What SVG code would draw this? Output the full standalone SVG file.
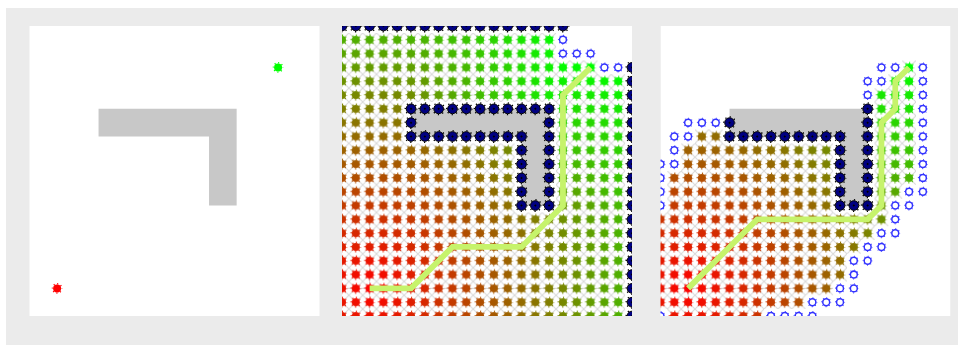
<svg xmlns="http://www.w3.org/2000/svg" width="964" height="345" viewBox="0 0 964 345">
<defs>
<g id="e"><circle r=".29" fill="currentColor"/><circle r=".34" fill="none" stroke="currentColor" stroke-width=".1" stroke-dasharray=".08 .187" stroke-dashoffset=".04"/></g>
<g id="r"><circle r=".25" fill="#fff" stroke="#3333ff" stroke-width=".11"/><circle r=".32" fill="none" stroke="#3333ff" stroke-width=".09" stroke-dasharray=".06 .1913" stroke-dashoffset=".03"/></g>
<g id="w"><circle r=".42" fill="none" stroke="#000" stroke-width=".1" stroke-dasharray=".09 .2399" stroke-dashoffset=".045"/><circle r=".35" fill="#000080" stroke="#000" stroke-width=".07"/><path d="M-.09 0L0-.09L.09 0L0 .09Z" fill="#000"/></g>
<pattern id="pd" patternUnits="userSpaceOnUse" x="-.5" y="-.5" width="1" height="1"><use href="#e" x=".5" y=".5" color="#fff"/></pattern>
<pattern id="pl" patternUnits="userSpaceOnUse" x="0" y="0" width="1" height="1"><path d="M0 0L1 1M1 0L0 1" stroke="#d9d9d9" stroke-width=".08"/></pattern>
<radialGradient id="gD" gradientUnits="userSpaceOnUse" cx="2" cy="19" r="26.3"><stop offset="0" stop-color="#f00"/><stop offset="1" stop-color="#0f0"/></radialGradient>
<radialGradient id="gL" gradientUnits="userSpaceOnUse" cx="4" cy="6" r="12.96"><stop offset="0" stop-color="#7e8100"/><stop offset="1" stop-color="#0f0"/></radialGradient>
<radialGradient id="gC" gradientUnits="userSpaceOnUse" cx="16" cy="13" r="10.4"><stop offset="0" stop-color="#659a00"/><stop offset="1" stop-color="#0f0"/></radialGradient>
<clipPath id="cp"><rect width="21" height="21"/></clipPath>
<path id="ex2" fill-rule="evenodd" d="M-.5 .5H15.5V2.5H18.5V3.5H20.5V21.5H-.5ZM4.5 5.5H15.5V13.5H12.5V8.5H4.5Z"/>
<path id="ex3" d="M17.5 2.5h1v1h-1zM16.5 3.5h2v1h-2zM15.5 4.5h3v7h-3zM15.5 11.5h2v1h-2zM15.5 12.5h1v1h-1zM2.5 7.5h2v1h-2zM1.5 8.5h11v2h-11zM.5 10.5h12v3h-12zM-.5 13.5h17v1h-17zM-.5 14.5h16v1h-16zM-.5 15.5h15v1h-15zM-.5 16.5h14v2h-14zM-.5 18.5h13v1h-13zM-.5 19.5h11v1h-11zM.5 20.5h7v1h-7z"/>
<mask id="m2"><use href="#ex2" fill="url(#pd)"/></mask>
<mask id="m3"><use href="#ex3" fill="url(#pd)"/></mask>
</defs>
<style>.pth{fill:none;stroke:#c6f36b;stroke-width:.42}.gl{stroke:#d9d9d9;stroke-width:.08;fill:none}.obs{fill:#c8c8c8}</style>
<rect width="964" height="345" fill="#fff"/>
<rect x="6" y="8" width="952" height="337" fill="#ebebeb"/>

<g id="panel1" transform="translate(29.5 26) scale(13.81)">
<rect width="21" height="21" fill="#fff"/>
<path class="obs" d="M5 6H15V13H13V8H5Z"/>
<use id="start" href="#e" x="2" y="19" color="#f00"/>
<use id="goal" href="#e" x="18" y="3" color="#0f0"/>
</g>

<g id="panel2" transform="translate(342 26) scale(13.81)">
<g clip-path="url(#cp)">
<rect width="21" height="21" fill="#fff"/>
<path class="obs" d="M5 6H15V13H13V8H5Z"/>
<use href="#ex2" fill="url(#pl)"/>
<path class="gl" d="M-.5 19H20.5M2 .5V21.5M5 5H15.5M5 5V.5"/>
<g mask="url(#m2)"><rect x="-1" y="-1" width="23" height="23" fill="url(#gD)"/><rect x="4.5" y="-1" width="11" height="6.5" fill="url(#gL)"/><rect x="15.5" y="-1" width="7" height="13.5" fill="url(#gC)"/></g>
<g id="walls2">
<use href="#w" x="0" y="0"/><use href="#w" x="1" y="0"/><use href="#w" x="2" y="0"/><use href="#w" x="3" y="0"/><use href="#w" x="4" y="0"/><use href="#w" x="5" y="0"/><use href="#w" x="6" y="0"/><use href="#w" x="7" y="0"/><use href="#w" x="8" y="0"/><use href="#w" x="9" y="0"/><use href="#w" x="10" y="0"/><use href="#w" x="11" y="0"/><use href="#w" x="12" y="0"/><use href="#w" x="13" y="0"/><use href="#w" x="14" y="0"/><use href="#w" x="15" y="0"/><use href="#w" x="16" y="0"/>
<use href="#w" x="21" y="3"/><use href="#w" x="21" y="4"/><use href="#w" x="21" y="5"/><use href="#w" x="21" y="6"/><use href="#w" x="21" y="7"/><use href="#w" x="21" y="8"/><use href="#w" x="21" y="9"/><use href="#w" x="21" y="10"/><use href="#w" x="21" y="11"/><use href="#w" x="21" y="12"/><use href="#w" x="21" y="13"/><use href="#w" x="21" y="14"/><use href="#w" x="21" y="15"/><use href="#w" x="21" y="16"/><use href="#w" x="21" y="17"/><use href="#w" x="21" y="18"/><use href="#w" x="21" y="19"/><use href="#w" x="21" y="20"/><use href="#w" x="21" y="21"/>
<use href="#w" x="5" y="6"/><use href="#w" x="6" y="6"/><use href="#w" x="7" y="6"/><use href="#w" x="8" y="6"/><use href="#w" x="9" y="6"/><use href="#w" x="10" y="6"/><use href="#w" x="11" y="6"/><use href="#w" x="12" y="6"/><use href="#w" x="13" y="6"/><use href="#w" x="14" y="6"/><use href="#w" x="15" y="6"/>
<use href="#w" x="5" y="7"/><use href="#w" x="15" y="7"/>
<use href="#w" x="5" y="8"/><use href="#w" x="6" y="8"/><use href="#w" x="7" y="8"/><use href="#w" x="8" y="8"/><use href="#w" x="9" y="8"/><use href="#w" x="10" y="8"/><use href="#w" x="11" y="8"/><use href="#w" x="12" y="8"/><use href="#w" x="13" y="8"/><use href="#w" x="15" y="8"/>
<use href="#w" x="13" y="9"/><use href="#w" x="15" y="9"/><use href="#w" x="13" y="10"/><use href="#w" x="15" y="10"/><use href="#w" x="13" y="11"/><use href="#w" x="15" y="11"/><use href="#w" x="13" y="12"/><use href="#w" x="15" y="12"/>
<use href="#w" x="13" y="13"/><use href="#w" x="14" y="13"/><use href="#w" x="15" y="13"/>
</g>
<g id="frontier2">
<use href="#r" x="16" y="1"/><use href="#r" x="16" y="2"/><use href="#r" x="17" y="2"/><use href="#r" x="18" y="2"/><use href="#r" x="19" y="3"/><use href="#r" x="20" y="3"/>
</g>
<g id="path2"><polyline class="pth" points="2,19 5,19 8,16 13,16 16,13 16,5 18,3"/></g>
</g>
</g>

<g id="panel3" transform="translate(660.5 26) scale(13.81)">
<g clip-path="url(#cp)">
<rect width="21" height="21" fill="#fff"/>
<path class="obs" d="M5 6H15V13H13V8H5Z"/>
<use href="#ex3" fill="url(#pl)"/>
<path class="gl" d="M-.5 19H12.5M2 8.5V21.5"/>
<g mask="url(#m3)"><rect x="-1" y="-1" width="23" height="23" fill="url(#gD)"/><rect x="15.5" y="-1" width="7" height="13.5" fill="url(#gC)"/></g>
<g id="walls3">
<use href="#w" x="5" y="7"/>
<use href="#w" x="5" y="8"/><use href="#w" x="6" y="8"/><use href="#w" x="7" y="8"/><use href="#w" x="8" y="8"/><use href="#w" x="9" y="8"/><use href="#w" x="10" y="8"/><use href="#w" x="11" y="8"/><use href="#w" x="12" y="8"/><use href="#w" x="13" y="8"/>
<use href="#w" x="13" y="9"/><use href="#w" x="13" y="10"/><use href="#w" x="13" y="11"/><use href="#w" x="13" y="12"/><use href="#w" x="13" y="13"/><use href="#w" x="14" y="13"/><use href="#w" x="15" y="13"/>
<use href="#w" x="15" y="6"/><use href="#w" x="15" y="7"/><use href="#w" x="15" y="8"/><use href="#w" x="15" y="9"/><use href="#w" x="15" y="10"/><use href="#w" x="15" y="11"/><use href="#w" x="15" y="12"/>
</g>
<g id="frontier3">
<use href="#r" x="16" y="3"/><use href="#r" x="17" y="3"/><use href="#r" x="19" y="3"/>
<use href="#r" x="15" y="4"/><use href="#r" x="16" y="4"/><use href="#r" x="19" y="4"/>
<use href="#r" x="15" y="5"/><use href="#r" x="19" y="5"/>
<use href="#r" x="19" y="6"/>
<use href="#r" x="2" y="7"/><use href="#r" x="3" y="7"/><use href="#r" x="4" y="7"/><use href="#r" x="19" y="7"/>
<use href="#r" x="1" y="8"/><use href="#r" x="2" y="8"/><use href="#r" x="19" y="8"/>
<use href="#r" x="1" y="9"/><use href="#r" x="19" y="9"/>
<use href="#r" x="0" y="10"/><use href="#r" x="1" y="10"/><use href="#r" x="19" y="10"/>
<use href="#r" x="0" y="11"/><use href="#r" x="19" y="11"/>
<use href="#r" x="0" y="12"/><use href="#r" x="18" y="12"/><use href="#r" x="19" y="12"/>
<use href="#r" x="0" y="13"/><use href="#r" x="17" y="13"/><use href="#r" x="18" y="13"/>
<use href="#r" x="17" y="14"/>
<use href="#r" x="16" y="15"/><use href="#r" x="17" y="15"/>
<use href="#r" x="15" y="16"/><use href="#r" x="16" y="16"/>
<use href="#r" x="14" y="17"/><use href="#r" x="15" y="17"/>
<use href="#r" x="14" y="18"/>
<use href="#r" x="13" y="19"/><use href="#r" x="14" y="19"/>
<use href="#r" x="11" y="20"/><use href="#r" x="12" y="20"/><use href="#r" x="13" y="20"/>
<use href="#r" x="0" y="21"/><use href="#r" x="8" y="21"/><use href="#r" x="9" y="21"/><use href="#r" x="10" y="21"/><use href="#r" x="11" y="21"/>
</g>
<g id="path3"><polyline class="pth" points="2,19 7,14 15,14 16,13 16,7 17,6 17,4 18,3"/></g>
</g>
</g>
</svg>
